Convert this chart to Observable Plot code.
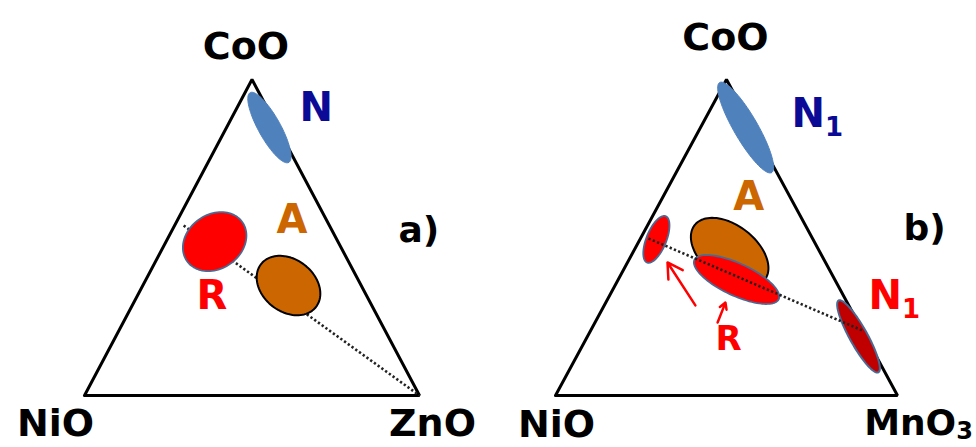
<!DOCTYPE html>
<html><head><meta charset="utf-8">
<script src="https://cdn.jsdelivr.net/npm/d3@7"></script>
<script src="https://cdn.jsdelivr.net/npm/@observablehq/plot@0.6"></script>
<style>
body{margin:0;background:#fff}
#root{display:flex;width:976px;height:447px;overflow:hidden}
</style>
</head><body><div id="root"></div>
<script>
// Ternary compositions: b = fraction of the bottom-right oxide, c = fraction of CoO (top); NiO = 1-b-c
const vertexNamesA = ["NiO", "ZnO", "CoO"];
const vertexNamesB = ["NiO", "MnO₃", "CoO"];

// Phase fields (ellipses): centre composition, semi-axes (fraction of side), tilt in degrees
const fieldsA = [
  {id: "N",  b: 0.128, c: 0.848, rx: 0.119, ry: 0.033, tilt: -61},
  {id: "R",  b: 0.145, c: 0.487, rx: 0.101, ry: 0.081, tilt: 35},
  {id: "A",  b: 0.435, c: 0.348, rx: 0.104, ry: 0.078, tilt: -38}
];
const fieldsB = [
  {id: "N1",  b: 0.132, c: 0.848, rx: 0.152, ry: 0.035, tilt: -60},
  {id: "A",   b: 0.283, c: 0.4525, rx: 0.130, ry: 0.079, tilt: -38},
  {id: "R",   b: 0.048, c: 0.494, rx: 0.073, ry: 0.029, tilt: 68},
  {id: "R",   b: 0.346, c: 0.367, rx: 0.136, ry: 0.047, tilt: -25},
  {id: "N1m", b: 0.7925, c: 0.187, rx: 0.120, ry: 0.026, tilt: -61}
];

// Tie lines (dotted)
const tieA = [{b: 0.027, c: 0.538}, {b: 1.0, c: 0.0}];
const tieB = [{b: 0.0235, c: 0.497}, {b: 0.794, c: 0.206}];

// Phase labels (left edge of text, composition coordinates)
const labelsA = [
  {text: "N",  key: "N",   b: 0.188, c: 0.908},
  {text: "A",  key: "A",   b: 0.296, c: 0.554},
  {text: "R",  key: "R",   b: 0.178, c: 0.313}
];
const tagA = [{text: "a)", b: 0.676, c: 0.522}];
const labelsB = [
  {text: "N₁", key: "N1",  b: 0.2455, c: 0.889},
  {text: "A",  key: "A",   b: 0.2065, c: 0.627},
  {text: "N₁", key: "N1m", b: 0.7585, c: 0.313}
];
const tagB = [{text: "b)", b: 0.7535, c: 0.528}];
const labelRB = [{text: "R", key: "R", b: 0.378, c: 0.180}];

// Arrows in panel b pointing at the R fields
const arrowsB = [
  {b1: 0.2665, c1: 0.285, b2: 0.117, c2: 0.421},
  {b1: 0.3585, c1: 0.231, b2: 0.350, c2: 0.294}
];

const fieldStyle = {
  N:   {fill: "#4F81BD", stroke: "#4F81BD", strokeWidth: 1},
  N1:  {fill: "#4F81BD", stroke: "#4F81BD", strokeWidth: 1},
  R:   {fill: "#FF0000", stroke: "#4A6A94", strokeWidth: 1.8},
  A:   {fill: "#CC6600", stroke: "#000000", strokeWidth: 2},
  N1m: {fill: "#C00000", stroke: "#4A6A94", strokeWidth: 2}
};
const labelColor = {N: "#0A0A96", N1: "#0A0A96", A: "#CC6600", R: "#FF0000", N1m: "#FF0000"};

const tx = d => d.b + d.c / 2;
const ty = d => d.c;
const FONT = "DejaVu Sans";

function ellipsePts(e, k) {
  const th = e.tilt * Math.PI / 180, pts = [];
  const xc = tx(e), yc = ty(e);
  for (let i = 0; i <= 96; i++) {
    const t = i / 96 * 2 * Math.PI;
    const ux = e.rx * Math.cos(t), uy = e.ry * Math.sin(t);
    pts.push({x: xc + ux * Math.cos(th) - uy * Math.sin(th),
              y: yc + (ux * Math.sin(th) + uy * Math.cos(th)) * k});
  }
  return pts;
}

// turn trailing Unicode subscript digits into a real subscript tspan
function subscripts(svg) {
  const map = {"₁": "1", "₂": "2", "₃": "3"};
  d3.select(svg).selectAll("text").each(function () {
    const t = this.textContent;
    const m = t.match(/^(.*?)([₁₂₃])$/);
    if (!m) return;
    const big = +this.closest("g").getAttribute("font-size") || 38;
    const isVertex = big < 39;
    const sel = d3.select(this);
    sel.text(null);
    sel.append("tspan").text(m[1]);
    sel.append("tspan").attr("dy", isVertex ? 4 : 9).attr("font-size", isVertex ? 24 : 26).text(map[m[2]]);
  });
}

function panel(cfg) {
  const k = (cfg.xr[1] - cfg.xr[0]) / (cfg.yr[0] - cfg.yr[1]);
  const tri = [{b: 0, c: 0}, {b: 1, c: 0}, {b: 0, c: 1}, {b: 0, c: 0}];
  const verts = [{b: 0, c: 0}, {b: 1, c: 0}, {b: 0, c: 1}];
  const tie = Plot.line(cfg.tie, {x: tx, y: ty, stroke: "#222", strokeWidth: 2.6,
    strokeDasharray: "2.3,2.3", strokeLinecap: "butt"});
  const ellMarks = cfg.fields.map(e => Plot.line(ellipsePts(e, k), {
    x: "x", y: "y", ...fieldStyle[e.id]
  }));
  const marks = [
    Plot.line(tri, {x: tx, y: ty, stroke: "#000", strokeWidth: 3, strokeLinejoin: "miter"}),
    ...(cfg.tieOnTop ? [...ellMarks, tie] : [tie, ...ellMarks]),
    Plot.text(cfg.labels, {x: tx, y: ty, text: "text", fill: d => labelColor[d.key], textAnchor: "start",
      fontSize: 40, fontWeight: "bold", fontFamily: FONT}),
    Plot.text(cfg.tag, {x: tx, y: ty, text: "text", fill: "#000", textAnchor: "start",
      fontSize: 36, fontWeight: "bold", fontFamily: FONT})
  ];
  cfg.vlabels.forEach((name, i) => {
    marks.push(Plot.text([verts[i]], {x: tx, y: ty, text: () => name, fill: "#000",
      dx: cfg.voff[i][0], dy: cfg.voff[i][1], fontSize: cfg.vsize[i], fontWeight: "bold", fontFamily: FONT}));
  });
  if (cfg.extra) marks.push(...cfg.extra);
  const svg = Plot.plot({
    width: 488, height: 447, margin: 0,
    style: {background: "#fff"},
    x: {domain: [0, 1], range: cfg.xr, axis: null},
    y: {domain: [0, 1], range: cfg.yr, axis: null},
    marks
  });
  subscripts(svg);
  return svg;
}

const root = document.getElementById("root");
root.appendChild(panel({
  xr: [84, 419], yr: [395, 79], fields: fieldsA, tie: tieA, tieOnTop: false,
  labels: labelsA, tag: tagA, vlabels: vertexNamesA,
  voff: [[-29, 28], [13, 28], [-6, -33]], vsize: [38, 38, 38]
}));
root.appendChild(panel({
  xr: [67, 409], yr: [395, 79], fields: fieldsB, tie: tieB, tieOnTop: true,
  labels: labelsB, tag: tagB, vlabels: vertexNamesB,
  voff: [[1, 29], [21, 28], [-1, -42]], vsize: [38, 36, 38],
  extra: [
    Plot.arrow(arrowsB, {x1: d => d.b1 + d.c1 / 2, y1: "c1", x2: d => d.b2 + d.c2 / 2, y2: "c2",
      stroke: "#FF0000", strokeWidth: 2.5, headLength: 11}),
    Plot.text(labelRB, {x: tx, y: ty, text: "text", fill: "#FF0000", textAnchor: "start",
      fontSize: 34, fontWeight: "bold", fontFamily: FONT})
  ]
}));
</script>
</body></html>
